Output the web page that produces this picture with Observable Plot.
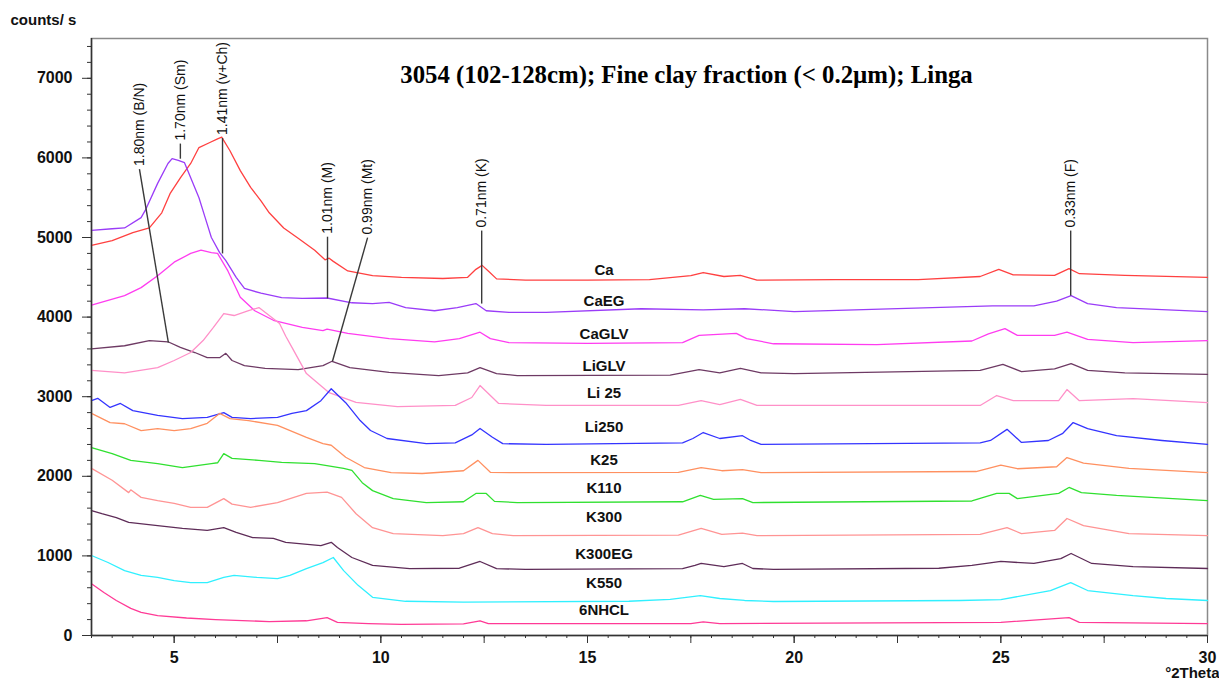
<!DOCTYPE html>
<html><head><meta charset="utf-8">
<script src="https://cdn.jsdelivr.net/npm/d3@7"></script>
<script src="https://cdn.jsdelivr.net/npm/@observablehq/plot@0.6"></script>
<style>body{margin:0;background:#fff}</style>
</head><body><div id="chart"></div>
<script>
// ---- data (°2Theta, counts/s) ----
const ca = [[3,4900],[3.5,4960],[4,5060],[4.4,5120],[4.7,5310],[4.9,5550],[5.15,5750],[5.4,5930],[5.6,6130],[5.85,6190],[6.05,6240],[6.15,6260],[6.35,6090],[6.6,5840],[6.85,5630],[7.1,5460],[7.3,5310],[7.65,5120],[8.0,4990],[8.4,4840],[8.65,4720],[8.75,4740],[8.85,4700],[9.2,4580],[9.8,4520],[10.5,4500],[11.5,4485],[12.1,4500],[12.3,4600],[12.45,4650],[12.6,4580],[12.8,4480],[13.5,4465],[15,4465],[16.5,4470],[17.5,4520],[17.8,4560],[18.3,4510],[18.7,4525],[19.1,4465],[21,4470],[23,4470],[24.5,4510],[24.95,4600],[25.3,4530],[26.3,4525],[26.65,4610],[26.9,4545],[28,4525],[30,4500]];
const caEG = [[3,5090],[3.5,5110],[3.8,5120],[4.2,5250],[4.3,5340],[4.6,5680],[4.85,5930],[4.95,5990],[5.1,5970],[5.25,5940],[5.4,5750],[5.6,5500],[5.75,5250],[5.9,5000],[6.1,4810],[6.25,4710],[6.5,4500],[6.7,4360],[7.1,4300],[7.6,4245],[8.1,4235],[8.7,4240],[9.3,4180],[9.8,4170],[10.2,4185],[10.6,4120],[11.3,4080],[11.85,4120],[12.3,4170],[12.55,4080],[13.1,4060],[14,4060],[16.3,4105],[17.8,4090],[18.8,4105],[20,4070],[24.8,4140],[25.8,4140],[26.35,4200],[26.7,4270],[27.1,4170],[27.8,4120],[30,4070]];
const caGLV = [[3,4150],[3.8,4270],[4.2,4370],[4.6,4520],[5,4690],[5.4,4800],[5.65,4840],[5.9,4810],[6.05,4800],[6.3,4580],[6.6,4250],[6.95,4080],[7.4,3960],[8.1,3870],[8.6,3830],[8.7,3850],[9.2,3795],[10.2,3730],[11.3,3690],[11.9,3730],[12.4,3810],[12.65,3730],[13.1,3680],[15,3670],[17.3,3680],[17.7,3770],[18.6,3795],[18.85,3730],[19.5,3665],[22,3655],[24.3,3700],[24.7,3790],[25.1,3855],[25.4,3770],[26.3,3770],[26.6,3810],[27.1,3720],[28.2,3680],[30,3705]];
const liGLV = [[3,3600],[3.8,3640],[4.4,3705],[4.85,3690],[5.15,3620],[5.5,3555],[5.8,3490],[6.1,3490],[6.25,3545],[6.4,3455],[6.7,3390],[7.2,3355],[8,3340],[8.6,3390],[8.82,3445],[9.25,3365],[10.2,3305],[11.4,3265],[12.1,3300],[12.4,3365],[12.8,3290],[13.3,3265],[17,3270],[17.7,3340],[18.2,3300],[18.7,3355],[19.2,3300],[20,3290],[24.5,3330],[25.05,3405],[25.5,3315],[26.3,3350],[26.7,3415],[27.1,3330],[28,3300],[30,3280]];
const li25 = [[3,3330],[3.8,3300],[4.6,3365],[5,3455],[5.4,3555],[5.7,3705],[5.95,3870],[6.2,4045],[6.45,4020],[6.8,4080],[7.05,4120],[7.3,4020],[7.55,3920],[7.7,3760],[7.85,3620],[8.2,3290],[8.75,3050],[9.4,2930],[10.4,2875],[11.8,2890],[12.2,2990],[12.4,3140],[12.6,3040],[12.85,2915],[14,2890],[17.2,2890],[17.75,2950],[18.2,2900],[18.7,2965],[19.1,2890],[24.5,2890],[24.9,3015],[25.3,2950],[26.4,2950],[26.6,3090],[26.9,2950],[28.2,2975],[30,2925]];
const li250 = [[3,2950],[3.15,2980],[3.45,2865],[3.7,2915],[4,2825],[4.6,2765],[5.2,2725],[5.8,2740],[6.2,2800],[6.4,2740],[6.85,2725],[7.5,2740],[7.85,2790],[8.2,2825],[8.55,2950],[8.8,3100],[9.15,2925],[9.5,2700],[9.75,2575],[10.15,2475],[11.1,2410],[11.8,2420],[12.2,2520],[12.4,2600],[12.7,2490],[12.95,2410],[14,2400],[17.3,2420],[17.55,2475],[17.8,2550],[18.2,2475],[18.75,2510],[18.95,2450],[19.2,2400],[24.5,2420],[24.75,2450],[25.15,2590],[25.5,2425],[26.15,2450],[26.5,2540],[26.75,2675],[27.1,2600],[27.8,2510],[28.9,2450],[30,2400]];
const k25 = [[3,2790],[3.45,2675],[3.8,2660],[4.2,2575],[4.6,2600],[5,2575],[5.4,2600],[5.8,2665],[6.1,2790],[6.35,2725],[6.8,2700],[7.5,2640],[8.2,2490],[8.6,2410],[8.8,2390],[9.15,2240],[9.6,2110],[10.25,2045],[11,2035],[12,2070],[12.35,2200],[12.65,2050],[13.2,2045],[17.2,2050],[17.75,2110],[18.25,2070],[18.75,2085],[19.2,2045],[24.4,2060],[25,2140],[25.4,2095],[26.35,2120],[26.6,2235],[27,2165],[28.1,2100],[30,2045]];
const k110 = [[3,2360],[3.5,2285],[3.95,2200],[4.6,2160],[5.2,2110],[5.9,2160],[6.05,2170],[6.2,2285],[6.4,2225],[7.05,2200],[7.6,2175],[8.4,2160],[9.1,2100],[9.3,2075],[9.55,1920],[9.8,1820],[10.3,1720],[11.1,1670],[12,1680],[12.3,1785],[12.55,1785],[12.75,1685],[13.3,1670],[17.3,1680],[17.73,1760],[18.05,1710],[18.75,1720],[19,1670],[24.3,1690],[24.9,1785],[25.2,1785],[25.4,1720],[26.4,1785],[26.65,1860],[26.95,1795],[27.8,1760],[30,1695]];
const k300 = [[3,2100],[3.5,1950],[3.9,1795],[3.95,1830],[4.2,1735],[4.6,1695],[5,1660],[5.4,1610],[5.8,1610],[6.2,1720],[6.4,1650],[6.85,1610],[7.5,1670],[8.2,1785],[8.7,1800],[9.05,1735],[9.4,1530],[9.8,1355],[10.3,1280],[11.5,1255],[12,1280],[12.35,1355],[12.7,1280],[13.2,1255],[17.2,1260],[17.75,1345],[18.25,1270],[18.75,1285],[19.1,1255],[24.5,1270],[25.15,1355],[25.5,1280],[26.3,1320],[26.6,1470],[27,1380],[28.1,1280],[30,1255]];
const k300EG = [[3,1570],[3.25,1530],[3.6,1480],[3.9,1420],[4.6,1380],[5.2,1345],[5.8,1320],[6.2,1355],[6.5,1295],[6.9,1230],[7.4,1220],[7.7,1170],[8.55,1130],[8.8,1170],[8.95,1105],[9.3,980],[9.8,880],[10.7,840],[11.9,845],[12.4,930],[12.8,840],[13.5,830],[17.3,840],[17.6,880],[17.75,905],[18.3,865],[18.75,905],[19.0,842],[19.5,830],[23.5,845],[24.3,880],[25,930],[25.8,905],[26.45,965],[26.7,1030],[27.2,905],[28.2,865],[30,842]];
const k550 = [[3,1005],[3.4,917],[3.8,815],[4.2,755],[4.6,730],[5,690],[5.4,665],[5.8,665],[6.2,730],[6.45,755],[7,730],[7.5,715],[7.8,755],[8.2,840],[8.6,915],[8.85,980],[9.1,815],[9.45,630],[9.8,480],[10.6,430],[12,420],[16,430],[17,455],[17.73,500],[18.2,465],[18.8,440],[19.5,427],[24,440],[25,450],[26.2,565],[26.69,665],[27.1,565],[28.2,500],[29,465],[30,440]];
const hcl6N = [[3,650],[3.3,540],[3.6,440],[3.95,340],[4.2,290],[4.6,250],[5.3,220],[6,200],[7.3,175],[8.2,185],[8.7,225],[8.95,165],[9.7,150],[10.5,140],[12,145],[12.4,185],[12.6,150],[17.5,150],[17.8,170],[18.2,150],[25,165],[26.65,225],[26.9,165],[30,150]];

const seriesNames = ["Ca","CaEG","CaGLV","LiGLV","Li 25","Li250","K25","K110","K300","K300EG","K550","6NHCL"];
const seriesValues = [ca, caEG, caGLV, liGLV, li25, li250, k25, k110, k300, k300EG, k550, hcl6N];
const seriesColors = ["#ff4040","#9a3cf8","#ff3cf0","#6e3a64","#ff90c8","#3434ff","#ff9060","#30e030","#ff9494","#5e2c58","#30f0ff","#ff3a96"];
const labelY = [4584,4195,3781,3379,3040,2612,2198,1846,1482,1017,653,314];
const labelX = 15.4;

const peakLabels = ["1.80nm (B/N)","1.70nm (Sm)","1.41nm (v+Ch)","1.01nm (M)","0.99nm (Mt)","0.71nm (K)","0.33nm (F)"];
const peakTopX = [4.16,5.15,6.17,8.71,9.68,12.44,26.69];
const peakTopY = [5860,6180,6250,5010,4999,5087,5087];
const peakEndX = [4.86,5.15,6.17,8.71,8.83,12.44,26.69];
const peakEndY = [3680,5990,4800,4235,3445,4170,4270];

const title = "3054 (102-128cm); Fine clay fraction (< 0.2µm); Linga";
const yMajor = d3.range(0, 7001, 1000);
const yMinor = d3.range(0, 7500, 200);
const xLabels = [5,10,15,20,25,30];
const xMid = d3.range(5, 30.01, 2.5);
const xMinor = d3.range(3, 30.01, 0.5);

// ---- tables ----
const rows = seriesNames.flatMap((name, i) => seriesValues[i].map(([x, y]) => ({name, x, y})));
const labels = seriesNames.map((name, i) => ({name, x: labelX, y: labelY[i]}));
const peaks = peakLabels.map((label, i) => ({label, x1: peakTopX[i], y1: peakTopY[i], x2: peakEndX[i], y2: peakEndY[i]}));

const font = "Liberation Sans, Arial, Helvetica, sans-serif";
const empty = () => "";

const chart = Plot.plot({
  width: 1219, height: 682,
  marginLeft: 91, marginRight: 12, marginTop: 38, marginBottom: 47,
  style: {fontFamily: font, background: "#fff"},
  x: {domain: [3, 30]},
  y: {domain: [0, 7500]},
  color: {domain: seriesNames, range: seriesColors},
  marks: [
    Plot.frame({stroke: "#8a8a8a", strokeWidth: 1.5}),
    Plot.line(rows, {x: "x", y: "y", z: "name", stroke: "name", strokeWidth: 1.3}),
    Plot.link(peaks, {x1: "x1", y1: "y1", x2: "x2", y2: "y2", stroke: "#3a3a3a", strokeWidth: 1.4}),
    Plot.text(peaks, {x: "x1", y: "y1", text: "label", rotate: -90, textAnchor: "start", dy: -3, fontSize: 14, fill: "#111"}),
    Plot.text(labels, {x: "x", y: "y", text: "name", fontSize: 15, fontWeight: "bold", fill: "#111"}),
    Plot.text([title], {frameAnchor: "top", dx: 37, dy: 37, lineAnchor: "middle", fontFamily: "Liberation Serif, Times New Roman, serif", fontWeight: "bold", fontSize: 24.8, fill: "#000"}),
    Plot.axisY({ticks: yMinor, tickSize: 4, tickFormat: empty, label: null, stroke: "#333"}),
    Plot.axisY({ticks: yMajor, tickSize: 9, tickPadding: 10, tickFormat: d3.format("d"), label: null, fontSize: 16, fontWeight: "bold", fill: "#111", stroke: "#333"}),
    Plot.axisX({ticks: xMinor, tickSize: 3, tickFormat: empty, label: null, stroke: "#333"}),
    Plot.axisX({ticks: xMid, tickSize: 8, tickFormat: empty, label: null, stroke: "#333"}),
    Plot.axisX({ticks: xLabels, tickSize: 8, tickPadding: 8, label: null, fontSize: 16, fontWeight: "bold", fill: "#111", stroke: "#333"}),
    Plot.ruleX([3], {stroke: "#333", strokeWidth: 1.5}),
    Plot.ruleY([0], {stroke: "#333", strokeWidth: 1.5}),
    Plot.text(["counts/ s"], {frameAnchor: "top-left", dx: -81, dy: -18, textAnchor: "start", lineAnchor: "middle", fontSize: 15, fontWeight: "bold", fill: "#111"}),
    Plot.text(["°2Theta"], {frameAnchor: "bottom-right", dx: 12, dy: 38, textAnchor: "end", lineAnchor: "middle", fontSize: 15, fontWeight: "bold", fill: "#111"})
  ]
});
document.getElementById("chart").append(chart);
</script>
</body></html>
